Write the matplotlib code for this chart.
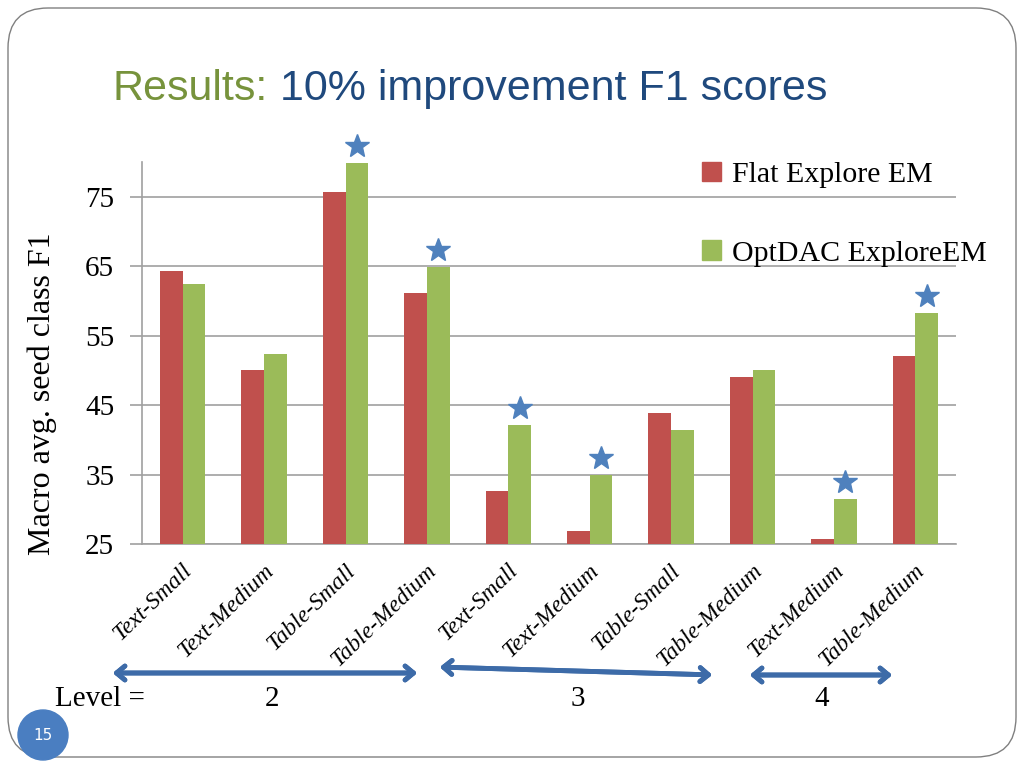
import matplotlib.pyplot as plt
from matplotlib.patches import Patch, FancyBboxPatch, Circle
from matplotlib.transforms import ScaledTranslation
import numpy as np

# data
categories = ['Text-Small', 'Text-Medium', 'Table-Small', 'Table-Medium',
              'Text-Small', 'Text-Medium', 'Table-Small', 'Table-Medium',
              'Text-Medium', 'Table-Medium']
flat_em = [64.3, 50.1, 75.7, 61.2, 32.6, 26.9, 43.8, 49.0, 25.7, 52.1]
optdac_em = [62.5, 52.4, 79.9, 64.9, 42.2, 34.9, 41.4, 50.0, 31.5, 58.2]
starred = [2, 3, 4, 5, 8, 9]
y_ticks = [25, 35, 45, 55, 65, 75]
levels = ['2', '3', '4']

red = '#C0504D'
green = '#9BBB59'
blue = '#4F81BD'
serif = 'Liberation Serif'
sans = ['Liberation Sans Narrow', 'Liberation Sans']

fig = plt.figure(figsize=(10.24, 7.68), dpi=100)
fig.patch.set_facecolor('white')

# slide frame
frame = FancyBboxPatch((0.08, 0.11), 10.08, 7.49, boxstyle='round,pad=0,rounding_size=0.4',
                       transform=fig.dpi_scale_trans, fill=False, edgecolor='#808080', lw=1.0)
fig.patches.append(frame)

ax = fig.add_axes([142 / 1024, 1 - 544 / 768, 814 / 1024, 382 / 768])
x = np.arange(len(categories))
w = 0.28
ax.bar(x - w / 2, flat_em, width=w, color=red, zorder=3)
ax.bar(x + w / 2, optdac_em, width=w, color=green, zorder=3)

# stars above significant improvements
star_x = [x[i] + w / 2 for i in starred]
star_y = [optdac_em[i] for i in starred]
shift = ax.transData + ScaledTranslation(0, 0.17, fig.dpi_scale_trans)
ax.plot(star_x, star_y, linestyle='none', marker='*', ms=18, color=blue,
        transform=shift, clip_on=False, zorder=4)

ax.set_xlim(-0.5, len(categories) - 0.5)
ax.set_ylim(25, 80)
ax.set_yticks(y_ticks)
ax.set_yticklabels([str(v) for v in y_ticks], fontsize=21, family=serif)
ax.yaxis.grid(True, color='#A0A0A0', lw=1.2, zorder=0)
ax.tick_params(axis='y', length=9, width=1.2, color='#A0A0A0', pad=11)
ax.set_xticks(x + 0.08)
ax.set_xticklabels(categories, rotation=44, ha='right', va='center', rotation_mode='anchor',
                   fontsize=17, family=serif, style='italic')
ax.tick_params(axis='x', length=0, pad=17)
for s in ['top', 'right']:
    ax.spines[s].set_visible(False)
ax.spines['left'].set_color('#A0A0A0')
ax.spines['bottom'].set_color('#A0A0A0')
ax.spines['left'].set_linewidth(1.2)
ax.spines['bottom'].set_linewidth(1.2)
ax.set_ylabel('Macro avg. seed class F1', fontsize=23, family=serif)
ax.yaxis.set_label_coords(-0.104, 0.393)

handles = [Patch(color=red, label='Flat Explore EM'), Patch(color=green, label='OptDAC ExploreEM')]
ax.legend(handles=handles, loc='upper left', bbox_to_anchor=(702 / 1024, 1 - 162 / 768),
          bbox_transform=fig.transFigure, frameon=False, prop={'family': serif, 'size': 21.5},
          handlelength=0.62, handleheight=0.62, handletextpad=0.4, labelspacing=1.75,
          borderpad=0, borderaxespad=0)

# title
t1 = fig.text(113 / 1024, 1 - 100 / 768, 'Results:', color='#77933C', fontsize=31,
              family=sans, va='baseline')
ax.annotate(' 10% improvement F1 scores', xy=(1, 0), xycoords=t1, va='bottom',
            color='#1F497D', fontsize=31, family=sans)

# level arrows
arrow_kw = dict(arrowstyle='<->,head_length=0.6,head_width=0.5', color='#3D6BA8', lw=3.5)
spans = [((110, 673), (420, 673)), ((437, 667), (715, 675)), ((747, 675), (895, 675))]
for (x0, y0), (x1, y1) in spans:
    fig.add_artist(plt.annotate('', xy=(x1 / 1024, 1 - y1 / 768), xytext=(x0 / 1024, 1 - y0 / 768),
                                xycoords='figure fraction', arrowprops=arrow_kw))
fig.text(55 / 1024, 1 - 699 / 768, 'Level =', fontsize=21, family=serif, va='center')
for lab, px in zip(levels, [272, 578, 822]):
    fig.text(px / 1024, 1 - 699 / 768, lab, fontsize=21, family=serif, va='center', ha='center')

# page number
fig.patches.append(Circle((0.43, 0.33), 0.25, transform=fig.dpi_scale_trans, color='#4A7EC1'))
fig.text(0.43, 0.33, '15', transform=fig.dpi_scale_trans, color='white', fontsize=11,
         ha='center', va='center')

fig.savefig('out.png', dpi=100)
